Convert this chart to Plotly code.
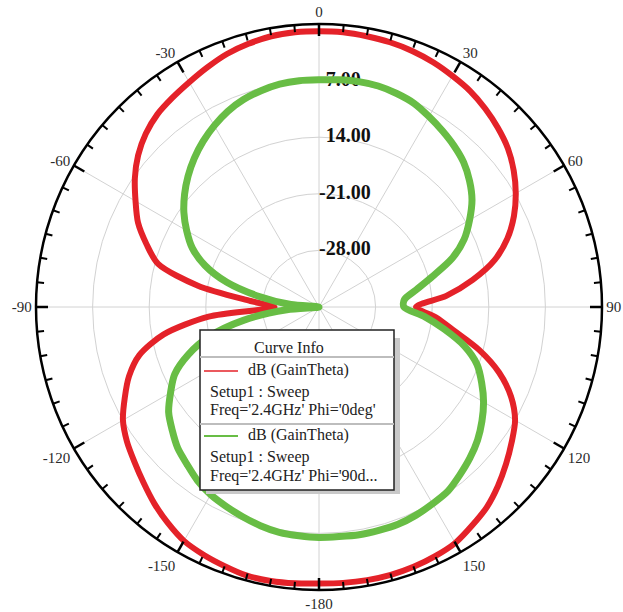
import math
import plotly.graph_objects as go

# Far-field gain pattern at 2.4 GHz, two phi cuts (values in dB)
theta_deg = list(range(-180, 181, 5))

gain_phi0 = [
    -0.8, -0.7, -0.6, -0.6, -0.9, -1.2, -1.6, -2.4, -3.3, -4.3, -5.2, -6.0,
    -7.0, -8.5, -10.0, -12.0, -15.5, -21.3, -29.5, -26.5, -19.8, -14.4, -12.3, -10.3,
    -8.8, -7.2, -5.8, -4.7, -3.9, -3.4, -2.9, -2.3, -1.7, -1.3, -1.0, -0.9,
    -0.9,
    -0.9, -1.0, -1.1, -1.3, -1.6, -2.0, -2.4, -3.0, -3.7, -4.5, -5.6, -6.9,
    -8.4, -10.2, -12.5, -15.7, -19.2, -23.0, -20.5, -18.0, -14.5, -11.3, -8.8, -7.0,
    -5.9, -4.8, -3.7, -2.7, -2.0, -1.3, -1.0, -0.8, -0.7, -0.7, -0.75, -0.8,
]

gain_phi90 = [
    -6.5, -6.6, -6.7, -7.0, -7.4, -7.8, -8.2, -8.8, -9.6, -10.3, -11.3, -12.3,
    -13.8, -15.3, -17.8, -21.0, -25.5, -31.0, -35.0, -31.5, -27.5, -23.2, -20.0, -17.7,
    -16.1, -14.6, -13.3, -12.1, -11.0, -10.0, -9.1, -8.3, -7.7, -7.3, -7.0, -6.9,
    -6.9,
    -6.8, -6.7, -6.7, -6.9, -7.2, -7.8, -8.4, -9.0, -9.7, -10.7, -11.9, -13.5,
    -15.2, -17.5, -20.5, -22.8, -24.4, -24.5, -22.0, -19.3, -16.4, -14.2, -12.8, -11.5,
    -10.4, -9.4, -8.6, -7.9, -7.2, -6.9, -6.6, -6.4, -6.4, -6.4, -6.5, -6.5,
]

r_range = [-35, 0]
r_label_vals = [-7, -14, -21, -28]
r_label_text = ["\u20047.00", "\u200414.00", "-21.00", "-28.00"]

ang_major_vals = list(range(0, 360, 30))
ang_major_text = ["0", "30", "60", "90", "120", "150",
                  "-180", "-150", "-120", "-90", "-60", "-30"]
ang_minor_vals = [a for a in range(0, 360, 5) if a % 30 != 0]

curve_names = ["dB (GainTheta)", "dB (GainTheta)"]
curve_setup = ["Setup1 : Sweep", "Setup1 : Sweep"]
curve_freq = ["Freq='2.4GHz' Phi='0deg'", "Freq='2.4GHz' Phi='90d..."]

RED = "#E42229"
GREEN = "#68BD45"
GRID = "#d2d2d2"
SERIF = "Liberation Serif, Times New Roman, serif"

W, H = 623, 612
cx, cy, R = 319, 307, 283

fig = go.Figure()

# radial scale labels, drawn first so the curves sit over them
fig.add_trace(go.Scatterpolar(
    r=r_label_vals, theta=[0] * len(r_label_vals), text=r_label_text,
    mode="text", textposition="middle right",
    textfont=dict(family=SERIF, size=20, color="#111111"),
    texttemplate="<b>%{text}</b>",
    showlegend=False, hoverinfo="skip",
))

fig.add_trace(go.Scatterpolar(
    r=gain_phi0, theta=theta_deg, mode="lines",
    line=dict(color=RED, width=6, shape="spline", smoothing=0.8),
    showlegend=False,
))
fig.add_trace(go.Scatterpolar(
    r=gain_phi90, theta=theta_deg, mode="lines",
    line=dict(color=GREEN, width=7, shape="spline", smoothing=0.8),
    showlegend=False,
))

dom_x = [(cx - R) / W, (cx + R) / W]
dom_y = [(H - cy - R) / H, (H - cy + R) / H]

fig.update_layout(
    width=W, height=H,
    margin=dict(l=0, r=0, t=0, b=0),
    paper_bgcolor="white",
    plot_bgcolor="white",
    showlegend=False,
    polar=dict(
        domain=dict(x=dom_x, y=dom_y),
        bgcolor="white",
        radialaxis=dict(
            range=r_range, tickvals=r_label_vals, showticklabels=False,
            ticks="", showline=False, gridcolor=GRID, gridwidth=1, angle=90,
        ),
        angularaxis=dict(
            rotation=90, direction="clockwise",
            tickmode="array", tickvals=ang_major_vals, ticktext=ang_major_text,
            ticks="", showline=True, linecolor="black", linewidth=2.5,
            gridcolor=GRID, gridwidth=1,
            tickfont=dict(family=SERIF, size=15, color="#2a2a2a"),
        ),
    ),
)


def px(x):
    return x / W


def py(y):
    return 1 - y / H


shapes = []

# angular tick marks pointing inward from the outer ring
for angles, length, width in ((ang_minor_vals, 7, 2), (ang_major_vals, 12, 2.5)):
    for a in angles:
        s, c = math.sin(math.radians(a)), math.cos(math.radians(a))
        shapes.append(dict(
            type="line", xref="paper", yref="paper", layer="above",
            x0=px(cx + R * s), y0=py(cy - R * c),
            x1=px(cx + (R - length) * s), y1=py(cy - (R - length) * c),
            line=dict(color="#000000", width=width),
        ))

# curve info box
bx0, by0, bx1, by1 = 200, 330, 394, 490
shapes += [
    dict(type="rect", xref="paper", yref="paper",
         x0=px(bx0 + 6), y0=py(by1 + 4), x1=px(bx1 + 6), y1=py(by0 + 8),
         fillcolor="#c9c9c9", line=dict(width=0)),
    dict(type="rect", xref="paper", yref="paper",
         x0=px(bx0), y0=py(by1), x1=px(bx1), y1=py(by0),
         fillcolor="white", line=dict(color="#222222", width=1.5)),
    dict(type="line", xref="paper", yref="paper",
         x0=px(bx0), y0=py(357), x1=px(bx1), y1=py(357),
         line=dict(color="#bdbdbd", width=2)),
    dict(type="line", xref="paper", yref="paper",
         x0=px(bx0), y0=py(424), x1=px(bx1), y1=py(424),
         line=dict(color="#bdbdbd", width=2)),
    dict(type="line", xref="paper", yref="paper",
         x0=px(204), y0=py(371), x1=px(238), y1=py(371),
         line=dict(color=RED, width=1.5)),
    dict(type="line", xref="paper", yref="paper",
         x0=px(204), y0=py(436), x1=px(238), y1=py(436),
         line=dict(color=GREEN, width=2)),
]

txt_font = dict(family=SERIF, size=16, color="#222222")
annotations = [
    dict(text="Curve Info", x=px(289), y=py(347), xanchor="center", yanchor="middle"),
    dict(text=curve_names[0], x=px(246), y=py(370), xanchor="left", yanchor="middle"),
    dict(text=curve_setup[0], x=px(208), y=py(392), xanchor="left", yanchor="middle"),
    dict(text=curve_freq[0], x=px(208), y=py(410), xanchor="left", yanchor="middle"),
    dict(text=curve_names[1], x=px(246), y=py(435), xanchor="left", yanchor="middle"),
    dict(text=curve_setup[1], x=px(208), y=py(457), xanchor="left", yanchor="middle"),
    dict(text=curve_freq[1], x=px(208), y=py(476), xanchor="left", yanchor="middle"),
]
for a in annotations:
    a.update(xref="paper", yref="paper", showarrow=False, font=txt_font)

fig.update_layout(shapes=shapes, annotations=annotations)

fig.write_html("out.html")
